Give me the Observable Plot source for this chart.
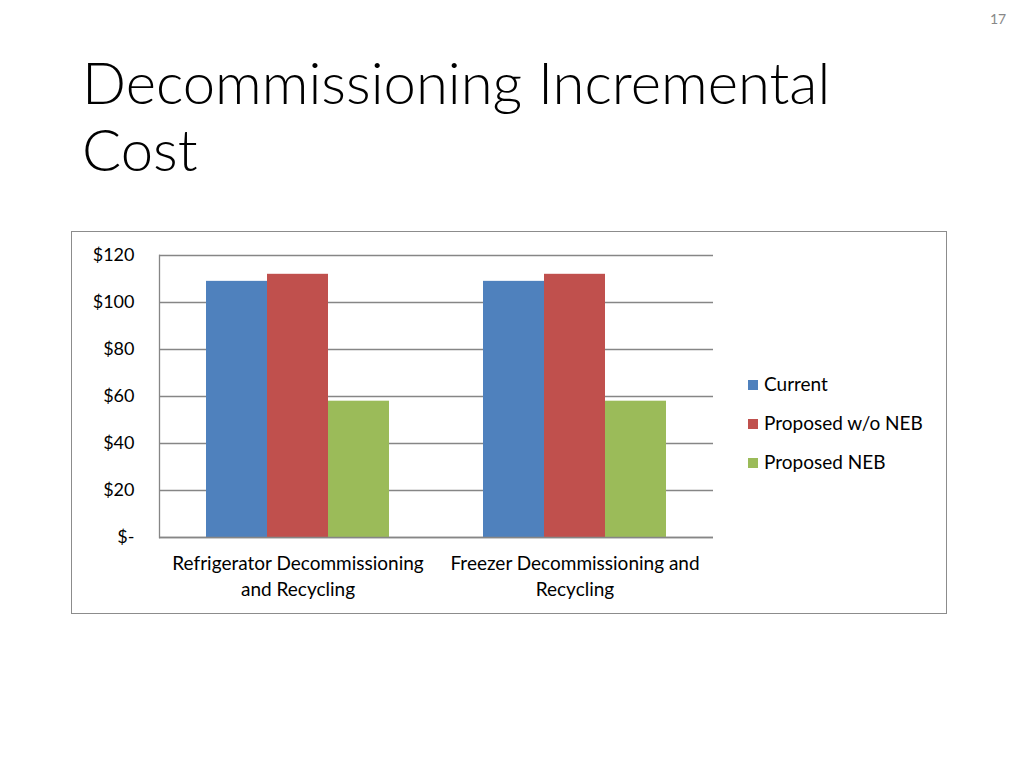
<!DOCTYPE html>
<html><head><meta charset="utf-8">
<script src="https://cdn.jsdelivr.net/npm/d3@7"></script>
<script src="https://cdn.jsdelivr.net/npm/@observablehq/plot@0.6"></script>
<style>
body{margin:0;background:#fff;font-family:Lato,"Open Sans",sans-serif;width:1024px;height:768px;position:relative;overflow:hidden}
#title{position:absolute;left:82px;top:48px;font-size:58px;line-height:67px;color:#000;font-weight:300}
#page{position:absolute;left:990px;top:10px;font-size:14px;color:#888}
#box{position:absolute;left:71px;top:231px;width:874px;height:381px;border:1px solid #8c8c8c}
#chart{position:absolute;left:0;top:0}
#legend{position:absolute;left:676px;top:141px;font-size:19px;color:#000}
.item{position:relative;height:39px;line-height:22px}
.sw{display:inline-block;width:10px;height:10px;margin-right:6px;vertical-align:1px}
</style></head>
<body>
<div id="page">17</div>
<div id="title">Decommissioning Incremental<br>Cost</div>
<div id="box"><div id="chart"></div><div id="legend"></div></div>
<script>
const categories = ["Refrigerator Decommissioning and Recycling", "Freezer Decommissioning and Recycling"];
const categoryLabels = ["Refrigerator Decommissioning\nand Recycling", "Freezer Decommissioning and\nRecycling"];
const seriesNames = ["Current", "Proposed w/o NEB", "Proposed NEB"];
const current = [109, 109];
const proposedWoNEB = [112, 112];
const proposedNEB = [58, 58];
const seriesColors = ["#4F81BD", "#C0504D", "#9BBB59"];
const yTicks = [0, 20, 40, 60, 80, 100, 120];

const seriesValues = [current, proposedWoNEB, proposedNEB];
const table = [];
categories.forEach((c, i) => seriesNames.forEach((s, j) => table.push({category: c, series: s, value: seriesValues[j][i]})));
const fmt = d => d === 0 ? "$-" : "$" + d;

const chart = Plot.plot({
  width: 874, height: 381,
  marginLeft: 86, marginRight: 233, marginTop: 23, marginBottom: 76,
  style: {fontFamily: "Lato, 'Open Sans', sans-serif", fontSize: "18px", color: "#000", background: "transparent"},
  fx: {domain: categories, padding: 0, label: null},
  x: {domain: seriesNames, paddingInner: 0, paddingOuter: 0.75, axis: null},
  y: {domain: [0, 120], label: null},
  color: {domain: seriesNames, range: seriesColors},
  marks: [
    Plot.gridY(yTicks, {stroke: "#868686", strokeOpacity: 1, strokeWidth: 1.3}),
    Plot.barY(table, {fx: "category", x: "series", y: "value", fill: "series", insetLeft: 0, insetRight: 0}),
    Plot.ruleY([0], {stroke: "#868686", strokeWidth: 1.3}),
    Plot.frame({anchor: "left", facetAnchor: "left", stroke: "#868686", strokeWidth: 1.3}),
    Plot.axisY(yTicks, {tickSize: 0, tickPadding: 25, fontSize: 18, tickFormat: fmt, label: null}),
    Plot.axisFx({anchor: "bottom", tickSize: 0, tickPadding: 14, fontSize: 19, lineHeight: 1.37, label: null,
      tickFormat: d => categoryLabels[categories.indexOf(d)]})
  ]
});
document.getElementById("chart").appendChild(chart);

const legend = document.getElementById("legend");
seriesNames.forEach((s, i) => {
  const div = document.createElement("div");
  div.className = "item";
  div.innerHTML = `<span class="sw" style="background:${seriesColors[i]}"></span>${s}`;
  legend.appendChild(div);
});
</script>
</body></html>
